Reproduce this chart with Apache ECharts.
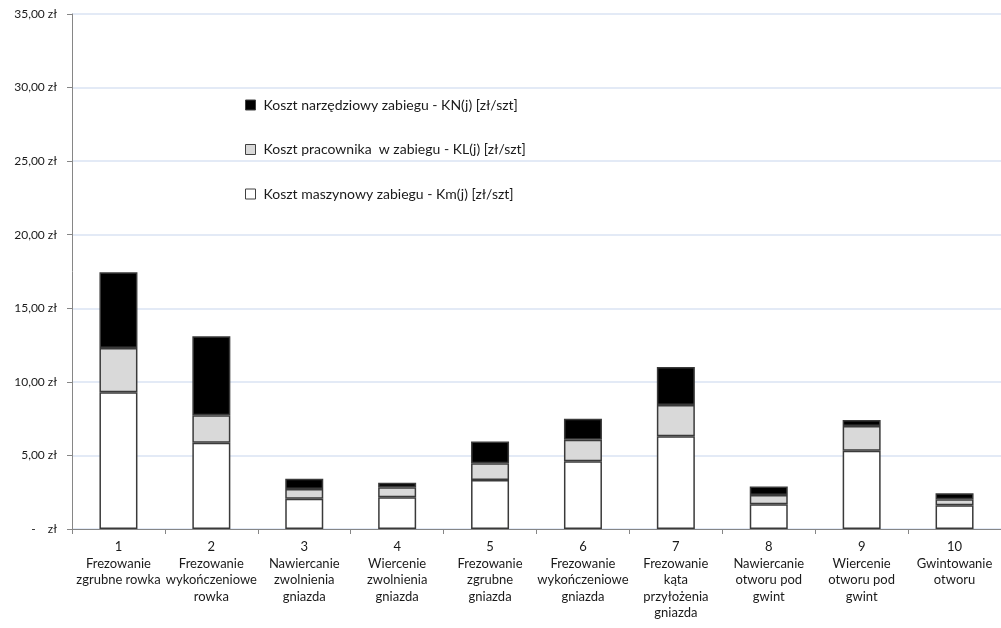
<!DOCTYPE html>
<html>
<head>
<meta charset="utf-8">
<script src="https://cdn.jsdelivr.net/npm/echarts@6/dist/echarts.min.js"></script>
<style>
html,body{margin:0;padding:0;background:#fff;}
#c{width:1001px;height:628px;}
</style>
</head>
<body>
<div id="c"></div>
<script>
// Data
const categoryNumbers = ['1','2','3','4','5','6','7','8','9','10'];
const categoryNames = [
  'Frezowanie\nzgrubne rowka',
  'Frezowanie\nwykończeniowe\nrowka',
  'Nawiercanie\nzwolnienia\ngniazda',
  'Wiercenie\nzwolnienia\ngniazda',
  'Frezowanie\nzgrubne\ngniazda',
  'Frezowanie\nwykończeniowe\ngniazda',
  'Frezowanie\nkąta\nprzyłożenia\ngniazda',
  'Nawiercanie\notworu pod\ngwint',
  'Wiercenie\notworu pod\ngwint',
  'Gwintowanie\notworu'
];
const seriesNames = [
  'Koszt maszynowy zabiegu - Km(j) [zł/szt]',
  'Koszt pracownika  w zabiegu - KL(j) [zł/szt]',
  'Koszt narzędziowy zabiegu - KN(j) [zł/szt]'
];
const kmValues = [9.29, 5.87, 2.06, 2.15, 3.33, 4.60, 6.30, 1.68, 5.32, 1.61];
const klValues = [3.01, 1.86, 0.66, 0.68, 1.13, 1.47, 2.13, 0.63, 1.68, 0.41];
const knValues = [5.15, 5.37, 0.70, 0.32, 1.48, 1.43, 2.58, 0.57, 0.41, 0.41];
const yTicks = [0, 5, 10, 15, 20, 25, 30, 35];

const categories = categoryNumbers.map((n, i) => n + '\n' + categoryNames[i]);
const FONT = 'Lato';
const fills = ['#ffffff', '#d9d9d9', '#000000'];
const dataSets = [kmValues, klValues, knValues];

const chart = echarts.init(document.getElementById('c'), null, {renderer: 'canvas'});
chart.setOption({
  animation: false,
  backgroundColor: '#ffffff',
  textStyle: {fontFamily: FONT},
  grid: {left: 72, top: 14, width: 932, height: 515, containLabel: false},
  legend: {
    orient: 'vertical',
    left: 240,
    top: 92,
    padding: 5,
    itemWidth: 10,
    itemHeight: 10,
    itemGap: 28.5,
    icon: 'rect',
    data: [seriesNames[2], seriesNames[1], seriesNames[0]],
    textStyle: {fontFamily: FONT, fontSize: 14, color: '#1a1a1a', lineHeight: 16, padding: [0, 0, 0, 3]},
    itemStyle: {borderColor: '#404040', borderWidth: 1}
  },
  xAxis: {
    type: 'category',
    data: categories,
    boundaryGap: true,
    axisLine: {lineStyle: {color: '#868686', width: 1}},
    axisTick: {show: true, length: 5, alignWithLabel: false, lineStyle: {color: '#868686'}},
    axisLabel: {
      interval: 0,
      margin: 10,
      fontFamily: FONT,
      fontSize: 13,
      lineHeight: 16.5,
      color: '#1a1a1a',
      align: 'center'
    }
  },
  yAxis: {
    type: 'value',
    min: 0,
    max: 35,
    interval: 5,
    axisLine: {show: true, lineStyle: {color: '#868686', width: 1}},
    axisTick: {show: true, length: 5, lineStyle: {color: '#868686'}},
    splitLine: {show: true, lineStyle: {color: '#dae3f3', width: 1.5}},
    axisLabel: {
      margin: 15,
      fontFamily: FONT,
      fontSize: 12,
      color: '#1a1a1a',
      formatter: function (v) {
        if (yTicks.indexOf(v) < 0) return '';
        if (v === 0) return '-    zł';
        return v.toFixed(2).replace('.', ',') + ' zł';
      }
    }
  },
  series: dataSets.map((d, i) => ({
    name: seriesNames[i],
    type: 'bar',
    stack: 'total',
    barWidth: 38,
    data: d,
    itemStyle: {color: fills[i], borderColor: '#3a3a3a', borderWidth: 1.5},
    emphasis: {disabled: true}
  }))
});
</script>
</body>
</html>
